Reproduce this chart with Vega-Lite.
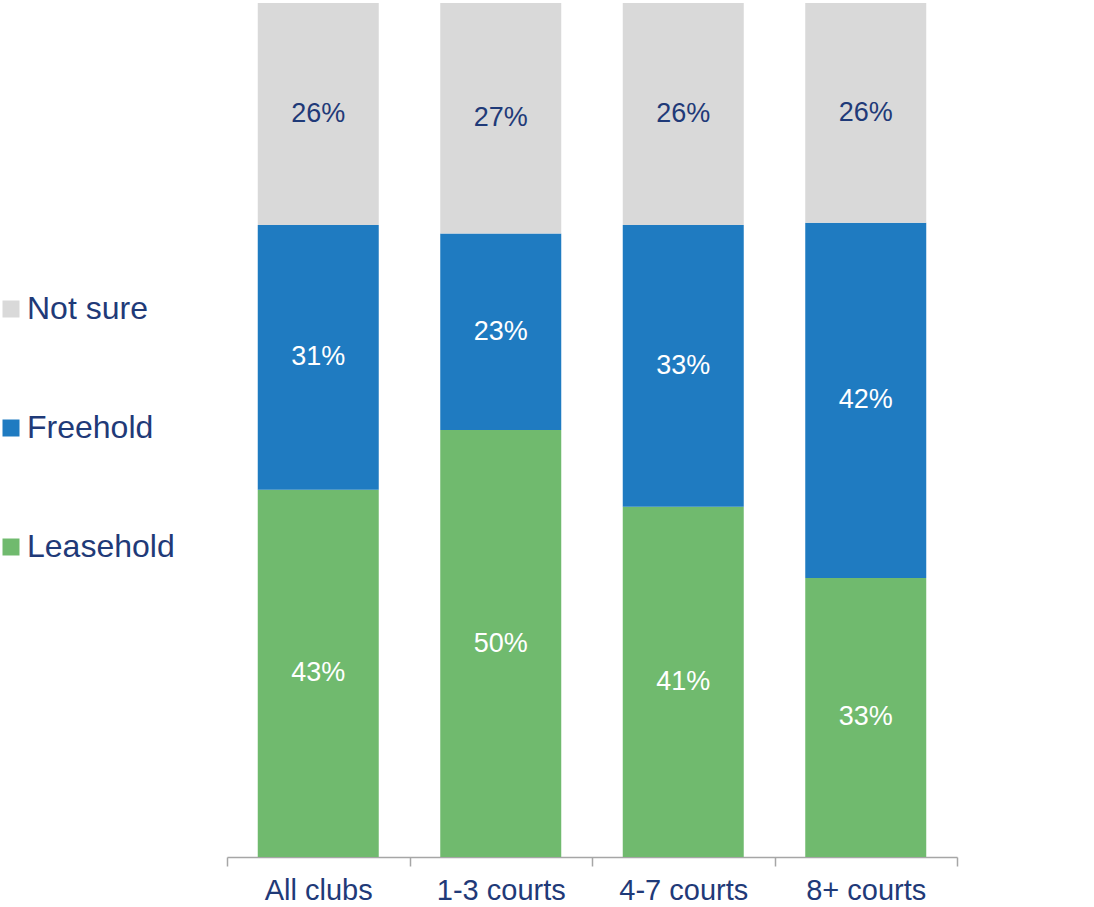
{
  "$schema": "https://vega.github.io/schema/vega-lite/v6.json",
  "autosize": {"type": "none"},
  "padding": {"left": 227, "top": 3, "right": 137, "bottom": 50},
  "width": 730,
  "height": 854,
  "background": "white",
  "config": {
    "view": {"stroke": null},
    "font": "Liberation Sans"
  },
  "data": {
    "values": [
      {"group": "All clubs", "type": "Leasehold", "rank": 1, "value": 43, "label": "43%"},
      {"group": "All clubs", "type": "Freehold", "rank": 2, "value": 31, "label": "31%"},
      {"group": "All clubs", "type": "Not sure", "rank": 3, "value": 26, "label": "26%"},
      {"group": "1-3 courts", "type": "Leasehold", "rank": 1, "value": 50, "label": "50%"},
      {"group": "1-3 courts", "type": "Freehold", "rank": 2, "value": 23, "label": "23%"},
      {"group": "1-3 courts", "type": "Not sure", "rank": 3, "value": 27, "label": "27%"},
      {"group": "4-7 courts", "type": "Leasehold", "rank": 1, "value": 41, "label": "41%"},
      {"group": "4-7 courts", "type": "Freehold", "rank": 2, "value": 33, "label": "33%"},
      {"group": "4-7 courts", "type": "Not sure", "rank": 3, "value": 26, "label": "26%"},
      {"group": "8+ courts", "type": "Leasehold", "rank": 1, "value": 33, "label": "33%"},
      {"group": "8+ courts", "type": "Freehold", "rank": 2, "value": 42, "label": "42%"},
      {"group": "8+ courts", "type": "Not sure", "rank": 3, "value": 26, "label": "26%"}
    ]
  },
  "encoding": {
    "x": {
      "field": "group",
      "type": "nominal",
      "sort": ["All clubs", "1-3 courts", "4-7 courts", "8+ courts"],
      "scale": {"paddingInner": 0, "paddingOuter": 0},
      "axis": {
        "title": null,
        "labelAngle": 0,
        "labelFontSize": 29,
        "labelColor": "#1F3A78",
        "labelPadding": 10,
        "tickBand": "extent",
        "tickSize": 9,
        "tickColor": "#A6A6A6",
        "tickWidth": 1.5,
        "domainColor": "#A6A6A6",
        "domainWidth": 1.5,
        "grid": false
      }
    },
    "y": {
      "field": "value",
      "type": "quantitative",
      "stack": "normalize",
      "axis": null
    },
    "order": {"field": "rank", "type": "quantitative"}
  },
  "layer": [
    {
      "mark": {"type": "bar", "width": {"band": 0.663}},
      "encoding": {
        "color": {
          "field": "type",
          "type": "nominal",
          "scale": {
            "domain": ["Not sure", "Freehold", "Leasehold"],
            "range": ["#D9D9D9", "#1F7BC1", "#70BA6E"]
          },
          "legend": {
            "title": null,
            "orient": "none",
            "legendX": -232,
            "legendY": 290,
            "symbolType": "square",
            "symbolSize": 289,
            "symbolStrokeWidth": 0,
            "symbolOpacity": 1,
            "labelFontSize": 32,
            "labelColor": "#1F3A78",
            "labelOffset": 0,
            "rowPadding": 87,
            "labelLimit": 300
          }
        }
      }
    },
    {
      "mark": {"type": "text", "fontSize": 27, "baseline": "middle", "align": "center"},
      "encoding": {
        "y": {
          "field": "value",
          "type": "quantitative",
          "stack": "normalize",
          "bandPosition": 0.5
        },
        "text": {"field": "label", "type": "nominal"},
        "color": {
          "condition": {"test": "datum.type === 'Not sure'", "value": "#1F3A78"},
          "value": "#FFFFFF"
        }
      }
    }
  ]
}
